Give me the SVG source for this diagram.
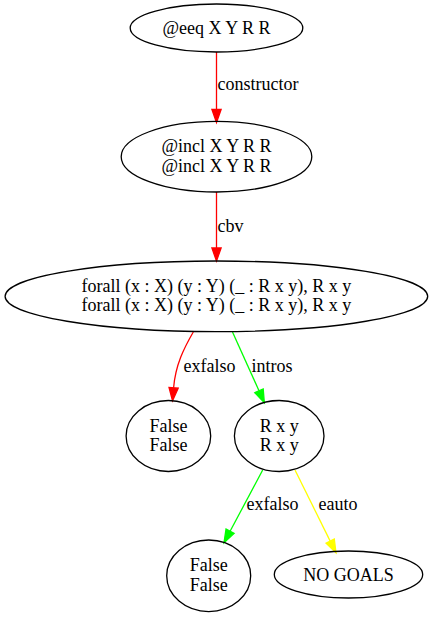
<svg xmlns="http://www.w3.org/2000/svg" width="433" height="617" viewBox="0 0 433 617">
<style>
.n ellipse{fill:none;stroke:#000;stroke-width:1.3}
text{font-family:"Liberation Serif","Times New Roman",serif;font-size:18px;fill:#000}
.n text{text-anchor:middle}
.e path{fill:none;stroke-width:1.3}
.r{stroke:#ff0000}
.g{stroke:#00ff00}
.y{stroke:#ffff00}
</style>
<defs>
<marker id="ar" markerUnits="userSpaceOnUse" markerWidth="16" markerHeight="12" refX="0" refY="0" viewBox="0 -6 16 12" orient="auto" overflow="visible"><path d="M0,-4.6 L13,0 L0,4.6 Z" fill="#ff0000" stroke="#ff0000" stroke-width="1.3"/></marker>
<marker id="ag" markerUnits="userSpaceOnUse" markerWidth="16" markerHeight="12" refX="0" refY="0" viewBox="0 -6 16 12" orient="auto" overflow="visible"><path d="M0,-4.6 L13,0 L0,4.6 Z" fill="#00ff00" stroke="#00ff00" stroke-width="1.3"/></marker>
<marker id="ay" markerUnits="userSpaceOnUse" markerWidth="16" markerHeight="12" refX="0" refY="0" viewBox="0 -6 16 12" orient="auto" overflow="visible"><path d="M0,-4.6 L13,0 L0,4.6 Z" fill="#ffff00" stroke="#ffff00" stroke-width="1.3"/></marker>
</defs>
<g id="edges" class="e">
<path class="r" d="M216.5,52 L216.5,109.5" marker-end="url(#ar)"/>
<text x="217.5" y="90">constructor</text>
<path class="r" d="M216.5,192 L216.5,248" marker-end="url(#ar)"/>
<text x="217.5" y="231.5">cbv</text>
<path class="r" d="M193.3,332 C184,348 175.5,365 173.6,387.8" marker-end="url(#ar)"/>
<text x="183.5" y="371.5">exfalso</text>
<path class="g" d="M232.5,332 L259,390.8" marker-end="url(#ag)"/>
<text x="251.5" y="371.5">intros</text>
<path class="g" d="M262.7,470 L230.1,531.2" marker-end="url(#ag)"/>
<text x="246.5" y="510">exfalso</text>
<path class="y" d="M295,470 L330.2,541.1" marker-end="url(#ay)"/>
<text x="318.5" y="510">eauto</text>
</g>
<g id="n1" class="n"><ellipse cx="216.5" cy="28" rx="86.3" ry="24"/><text x="216.5" y="34">@eeq X Y R R</text></g>
<g id="n2" class="n"><ellipse cx="216.5" cy="156.7" rx="95.3" ry="35.3"/><text x="216.5" y="152.3">@incl X Y R R</text><text x="216.5" y="171.7">@incl X Y R R</text></g>
<g id="n3" class="n"><ellipse cx="216.4" cy="296.3" rx="211.3" ry="35.3"/><text x="216.4" y="292">forall (x : X) (y : Y) (_ : R x y), R x y</text><text x="216.4" y="311.4">forall (x : X) (y : Y) (_ : R x y), R x y</text></g>
<g id="n4" class="n"><ellipse cx="168.4" cy="436" rx="42.3" ry="35.5"/><text x="168.4" y="431.6">False</text><text x="168.4" y="451">False</text></g>
<g id="n5" class="n"><ellipse cx="279.2" cy="436" rx="44.8" ry="35.5"/><text x="279.2" y="431.6">R x y</text><text x="279.2" y="451">R x y</text></g>
<g id="n6" class="n"><ellipse cx="208.7" cy="575.8" rx="42" ry="35.8"/><text x="208.7" y="571.4">False</text><text x="208.7" y="590.8">False</text></g>
<g id="n7" class="n"><ellipse cx="348.5" cy="574.5" rx="74.2" ry="23.5"/><text x="348.5" y="580.5">NO GOALS</text></g>
</svg>
